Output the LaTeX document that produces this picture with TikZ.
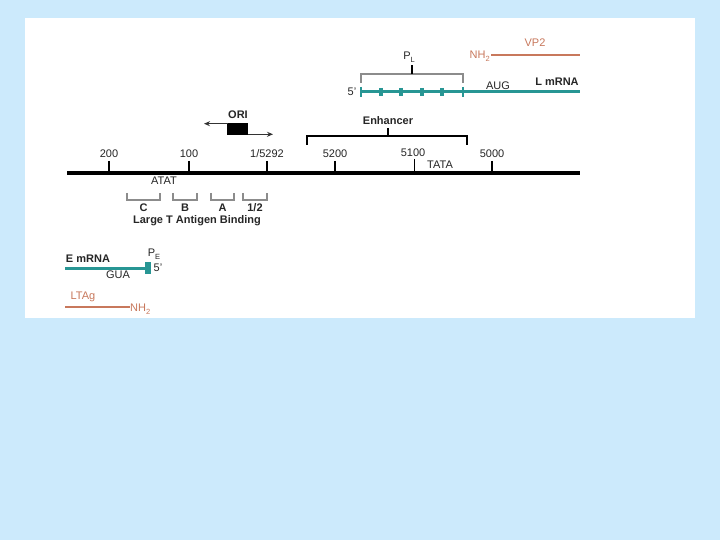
\documentclass[tikz,border=0pt]{standalone}
\usepackage{fontspec}
\setmainfont{Liberation Sans}
\usetikzlibrary{arrows.meta}
\definecolor{bgblue}{RGB}{204,234,252}
\definecolor{tealc}{RGB}{40,150,148}
\definecolor{orng}{RGB}{200,120,92}
\definecolor{brk}{RGB}{140,140,140}
\newcommand{\lsub}[1]{\raisebox{-3pt}{\fontsize{7.5}{8}\selectfont #1}}
\begin{document}
\begin{tikzpicture}[x=1pt,y=-1pt,
  lbl/.style={font=\fontsize{11}{12}\selectfont, inner sep=0pt, text=black!85},
  bl/.style={font=\fontsize{11}{12}\selectfont\bfseries, inner sep=0pt, text=black!85},
  olbl/.style={font=\fontsize{11}{12}\selectfont, inner sep=0pt, text=orng},
  mainln/.style={line width=3.5pt},
  bigtick/.style={line width=2.5pt},
  thintick/.style={line width=1pt},
  brkt/.style={draw=brk, line width=1.2pt},
  enhb/.style={draw=black, line width=1.1pt},
  tealln/.style={draw=tealc, line width=3pt},
  orln/.style={draw=orng, line width=2.6pt},
  oriarrow/.style={draw=black!80, line width=1pt, -{Stealth[length=6pt,width=5pt]}}]
\fill[bgblue] (0,0) rectangle (720,540);
\fill[white] (25,18) rectangle (695,318);
\useasboundingbox (0,0) rectangle (720,540);

% main line
\coordinate (m0) at (67,173);
\coordinate (m1) at (580,173);
\draw[mainln] (m0) -- (m1);

% ticks and labels
\foreach \x/\t/\n in {109/200/a, 189/100/b, 267/1\slash 5292/c, 335/5200/d, 492/5000/f}{
  \coordinate (tt\n) at (\x,161);
  \coordinate (tb\n) at (\x,173);
  \draw[bigtick] (tt\n) -- (tb\n);
  \node[lbl] (l\n) at (\x,154) {\t};
}
\coordinate (tte) at (414,159);
\coordinate (tbe) at (414,173);
\draw[thintick] (tte) -- (tbe);
\node[lbl] (le) at (413,153) {5100};
\node[lbl] (tata) at (440,165) {TATA};
\node[lbl] (atat) at (164,181) {ATAT};

% T antigen binding brackets
\foreach \a/\b/\t/\n in {127/160/C/c, 173/197/B/b, 211/234/A/a, 243/267/1\slash 2/h}{
  \coordinate (ba\n) at (\a,193);
  \coordinate (bb\n) at (\b,193);
  \draw[brkt] (ba\n) -- ++(0,7) -| (bb\n);
  \node[bl] (bl\n) at ({(\a+\b)/2},208) {\t};
}
\node[bl] (ltab) at (197,221) {Large T Antigen Binding};

% enhancer
\coordinate (e0) at (307,145);
\coordinate (e1) at (467,145);
\coordinate (ec) at (388,136);
\draw[enhb] (e0) -- ++(0,-9) -| (e1);
\draw[enhb] (ec) -- ++(0,-8);
\node[bl] (enh) at (388,121) {Enhancer};

% ORI
\node[fill=black, minimum width=21pt, minimum height=12pt, inner sep=0pt] (ori) at (237.5,129) {};
\node[bl] (oril) at (238,115) {ORI};
\coordinate (oriLs) at (227.5,123.7);
\coordinate (oriL) at (204,123.7);
\coordinate (oriRs) at (247.5,134.3);
\coordinate (oriR) at (273,134.3);
\draw[oriarrow] (oriLs) -- (oriL);
\draw[oriarrow] (oriRs) -- (oriR);

% L mRNA
\coordinate (L0) at (361,92);
\coordinate (L1) at (580,92);
\draw[tealln] (L0) -- (L1);
\draw[draw=tealc, line width=2.5pt] (361,87) -- (361,97);
\foreach \x in {381,401,422,442}{
  \draw[draw=tealc, line width=3.2pt] (\x,88) -- (\x,96);
}
\draw[draw=tealc, line width=1.2pt] (463,87) -- (463,97);
\node[lbl] (five1) at (352,92) {5'};
\node[lbl] (aug) at (498,86) {AUG};
\node[bl] (lmrna) at (557,82) {L mRNA};

% P_L bracket
\coordinate (p0) at (361,83);
\coordinate (p1) at (463,83);
\coordinate (pc) at (412,74);
\draw[brkt] (p0) -- ++(0,-9) -| (p1);
\draw[draw=black, line width=1.1pt] (pc) -- ++(0,-9);
\node[lbl, anchor=base] (pl) at (409,60) {P\lsub{L}};

% VP2
\coordinate (v0) at (491,55);
\coordinate (v1) at (580,55);
\draw[orln] (v0) -- (v1);
\node[olbl, anchor=base east] (nh2a) at (490,59) {NH\lsub{2}};
\node[olbl] (vp2) at (535,43) {VP2};

% E mRNA
\coordinate (E0) at (65,268);
\coordinate (E1) at (146,268);
\draw[tealln] (E0) -- (E1);
\fill[tealc] (145,262) rectangle (151,274);
\node[bl] (emrna) at (88,259) {E mRNA};
\node[lbl] (gua) at (118,275) {GUA};
\node[lbl, anchor=base] (pe) at (154,256) {P\lsub{E}};
\node[lbl] (five2) at (158,268) {5'};

% LTAg
\coordinate (T0) at (65,307);
\coordinate (T1) at (130,307);
\draw[orln] (T0) -- (T1);
\node[olbl] (ltag) at (83,297) {LTAg};
\node[olbl, anchor=base west] (nh2b) at (130,311) {NH\lsub{2}};
\end{tikzpicture}
\end{document}
